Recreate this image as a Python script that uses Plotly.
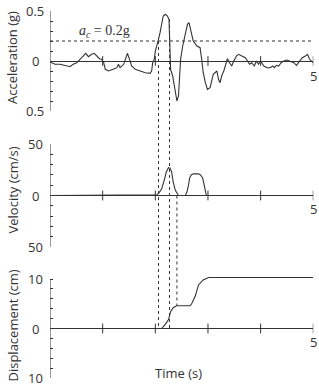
import plotly.graph_objects as go

# ---------------- data ----------------
ACC_T = [0.00, 0.095, 0.19, 0.285, 0.38, 0.44, 0.51, 0.57, 0.63, 0.68, 0.73, 0.79, 0.84, 0.89, 0.94,
         0.98, 1.02, 1.05, 1.11, 1.20, 1.27, 1.30, 1.33, 1.40, 1.44, 1.47, 1.51, 1.55, 1.62, 1.71,
         1.81, 1.90, 1.93, 1.95, 1.98, 2.00, 2.03, 2.06, 2.09, 2.12, 2.15, 2.19, 2.23, 2.26, 2.27,
         2.28, 2.29, 2.33, 2.38, 2.41, 2.44, 2.46, 2.48, 2.52, 2.57, 2.61, 2.64, 2.67, 2.72, 2.79,
         2.85, 2.88, 2.91, 2.95, 2.99, 3.04, 3.07, 3.10, 3.17, 3.20, 3.23, 3.26, 3.30, 3.33, 3.37,
         3.41, 3.45, 3.49, 3.54, 3.58, 3.64, 3.71, 3.75, 3.79, 3.83, 3.88, 3.92, 3.96, 4.00, 4.06,
         4.12, 4.18, 4.23, 4.26, 4.30, 4.34, 4.39, 4.44, 4.50, 4.56, 4.63, 4.68, 4.72, 4.79, 4.85,
         4.89, 4.93, 4.97, 5.00]
ACC_G = [-0.01, -0.033, -0.033, -0.043, -0.057, -0.033, -0.017, 0.017, 0.05, 0.077, 0.043, 0.067, 0.077, 0.05, 0.023,
         0.017, -0.017, -0.083, -0.10, -0.083, -0.067, -0.033, -0.067, -0.033, 0.033, 0.077, 0.017, -0.05, -0.083, -0.10,
         -0.117, -0.123, -0.10, -0.017, 0.017, 0.10, 0.15, 0.217, 0.283, 0.383, 0.45, 0.467, 0.45, 0.417, 0.283,
         0.017, -0.083, -0.15, -0.283, -0.40, -0.35, -0.183, 0.017, 0.15, 0.283, 0.367, 0.383, 0.317, 0.20, 0.15,
         0.133, 0.017, -0.117, -0.217, -0.283, -0.267, -0.20, -0.133, -0.10, -0.183, -0.217, -0.15, -0.10, -0.05, 0.023,
         -0.017, -0.05, 0.0, 0.05, 0.067, 0.05, 0.033, 0.0, -0.033, -0.017, -0.05, 0.0, -0.033, 0.0, -0.05,
         -0.067, -0.067, -0.05, -0.067, -0.043, -0.05, -0.017, 0.0, 0.01, 0.0, -0.017, -0.043, -0.017, 0.033, 0.05,
         0.067, 0.017, 0.0, -0.017]

VEL_T = [0.0, 2.03, 2.08, 2.12, 2.17, 2.21, 2.25, 2.28, 2.31, 2.34, 2.38, 2.41, 2.44,
         2.57, 2.60, 2.63, 2.65, 2.68, 2.72, 2.82, 2.86, 2.90, 2.93, 2.95, 2.97, 5.0]
VEL_V = [0.0, 0.7, 3.3, 6.5, 15, 23, 27, 26.5, 23, 13, 5, 1.7, 0,
         0, 3.3, 10, 16.7, 20, 21, 21, 20, 16.7, 10, 3.3, 0, 0]

DIS_T = [0.0, 2.12, 2.19, 2.25, 2.29, 2.34, 2.40, 2.66, 2.69, 2.76, 2.82, 2.86, 2.91, 3.01, 5.0]
DIS_D = [0.0, 0.0, 0.83, 1.8, 3.4, 4.2, 4.6, 4.6, 5.0, 6.6, 8.8, 9.3, 9.8, 10.3, 10.3]

AC = 0.2                       # threshold acceleration (g)
X_TICKS = [1, 2, 3, 4, 5]
X_LABEL = "5"
ACC_TICKS = [-0.5, 0, 0.5]
ACC_TICKTEXT = ["0.5", "0", "0.5"]
VEL_TICKS = [-50, 0, 50]
VEL_TICKTEXT = ["50", "0", "50"]
DIS_TICKS = [-10, 0, 10]
DIS_TICKTEXT = ["10", "0", "10"]

# vertical guide lines: (time, panel_start, value_start, panel_end, value_end)
VLINES = [(2.06, "acc", 0.2, "dis", 0.0),
          (2.27, "acc", 0.42, "dis", 0.0),
          (2.41, "vel", 0.0, "dis", 4.6)]

# ---------------- layout ----------------
W, H = 319, 388
INK = "#333333"
FONT = "Open Sans"
XDOM = [50 / W, 313.3 / W]
PANELS = {
    "acc": dict(ax="y", ypx=(111, 11), ext=0.0, minor=0.1,
                ticks=ACC_TICKS, text=ACC_TICKTEXT, title="Acceleration (g)", lab_shift=15, tshift=3),
    "vel": dict(ax="y2", ypx=(247, 144), ext=0.0, minor=10,
                ticks=VEL_TICKS, text=VEL_TICKTEXT, title="Velocity (cm/s)", lab_shift=13, tshift=5),
    "dis": dict(ax="y3", ypx=(378, 279), ext=0.8, minor=2,
                ticks=DIS_TICKS, text=DIS_TICKTEXT, title="Displacement (cm)", lab_shift=13, tshift=3),
}
for p in PANELS.values():
    lo, hi = p["ticks"][0], p["ticks"][-1]
    ybot, ytop = p["ypx"]
    ppu = (ybot - ytop) / (hi - lo)          # pixels per unit
    p["rng"] = [lo, hi + p["ext"]]
    p["dom"] = [1 - ybot / H, 1 - (ytop - p["ext"] * ppu) / H]


def to_paper(panel, v):
    p = PANELS[panel]
    lo, hi = p["rng"]
    d0, d1 = p["dom"]
    return d0 + (v - lo) / (hi - lo) * (d1 - d0)


fig = go.Figure()
series = [("acc", ACC_T, ACC_G), ("vel", VEL_T, VEL_V), ("dis", DIS_T, DIS_D)]
for i, (key, tx, ty) in enumerate(series):
    xa = "x" if i == 0 else f"x{i+1}"
    ya = PANELS[key]["ax"]
    fig.add_trace(go.Scatter(x=tx, y=ty, mode="lines", xaxis=xa, yaxis=ya,
                             line=dict(color=INK, width=1.1), showlegend=False, hoverinfo="skip"))
    fig.add_trace(go.Scatter(x=X_TICKS, y=[0] * len(X_TICKS), mode="markers", xaxis=xa, yaxis=ya,
                             marker=dict(symbol="line-ns", size=7, line=dict(width=1, color=INK)),
                             showlegend=False, hoverinfo="skip"))

layout = dict(width=W, height=H, margin=dict(l=0, r=0, t=0, b=0),
              paper_bgcolor="white", plot_bgcolor="white",
              font=dict(family=FONT, size=13, color=INK))
annotations = []
shapes = []
for i, key in enumerate(["acc", "vel", "dis"]):
    p = PANELS[key]
    xk = "xaxis" if i == 0 else f"xaxis{i+1}"
    yk = "yaxis" if i == 0 else f"yaxis{i+1}"
    xa = "x" if i == 0 else f"x{i+1}"
    ya = p["ax"]
    layout[xk] = dict(domain=XDOM, range=[0, 5], anchor=ya, visible=False, fixedrange=True)
    layout[yk] = dict(domain=p["dom"], range=p["rng"], anchor=xa, showline=False,
                      ticks="inside", ticklen=3, tickcolor=INK, tickvals=p["ticks"],
                      showticklabels=False, showgrid=False, zeroline=True, zerolinecolor=INK,
                      zerolinewidth=1.2,
                      minor=dict(dtick=p["minor"], ticks="inside", ticklen=3, tickcolor=INK, showgrid=False))
    # the vertical axis bracket, from lowest to highest tick
    shapes.append(dict(type="line", xref=xa, yref=ya, x0=0, x1=0, y0=p["ticks"][0], y1=p["ticks"][-1],
                       line=dict(color=INK, width=1)))
    for v, t in zip(p["ticks"], p["text"]):
        annotations.append(dict(x=35 / W, xref="paper", y=v, yref=ya, text=t, showarrow=False,
                                xanchor="center", yanchor="middle", font=dict(size=13)))
    annotations.append(dict(x=5, xref=xa, y=0, yref=ya, text=X_LABEL, showarrow=False,
                            xanchor="center", yanchor="middle", yshift=-p["lab_shift"], font=dict(size=13)))
    annotations.append(dict(x=12 / W, xref="paper", y=to_paper(key, 0), yref="paper", text=p["title"],
                            textangle=-90, showarrow=False, xanchor="center", yanchor="middle",
                            yshift=p["tshift"], font=dict(size=13)))

# threshold line
shapes.append(dict(type="line", xref="x", yref="y", x0=0, x1=5, y0=AC, y1=AC,
                   line=dict(color=INK, width=1, dash="dot")))
annotations.append(dict(x=1.03, xref="x", y=AC, yref="y", yanchor="bottom", yshift=-1,
                        text="<i>a</i><sub><i>c</i></sub> = 0.2g", showarrow=False,
                        font=dict(family="Liberation Serif", size=14, color=INK)))

# vertical dotted guide lines
for t, pa, va, pb, vb in VLINES:
    shapes.append(dict(type="line", xref="x", yref="paper", x0=t, x1=t,
                       y0=to_paper(pa, va), y1=to_paper(pb, vb),
                       line=dict(color=INK, width=1, dash="dot")))

annotations.append(dict(x=0.5 * (XDOM[0] + XDOM[1]) - 3 / W, xref="paper", y=1 - 373 / H, yref="paper",
                        text="Time (s)", showarrow=False, xanchor="center", yanchor="middle",
                        font=dict(size=13)))

layout["annotations"] = annotations
layout["shapes"] = shapes
fig.update_layout(**layout)
fig.write_html("out.html")
